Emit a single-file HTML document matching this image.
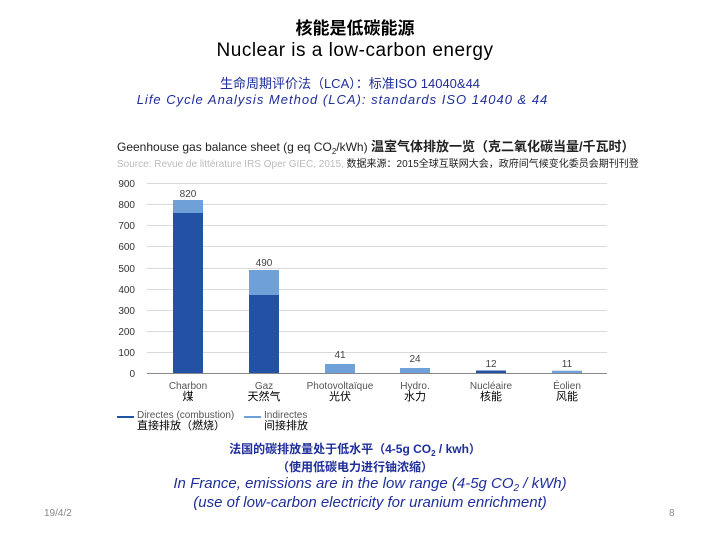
<!DOCTYPE html>
<html><head><meta charset="utf-8"><style>
body{margin:0;width:720px;height:540px;background:#fff;position:relative;overflow:hidden;font-family:"Liberation Sans","Noto Sans CJK SC",sans-serif;}
.t{position:absolute;white-space:nowrap;}
.s{position:relative;top:3px;line-height:0}
</style></head><body>
<div class="t" style="left:0;width:710px;text-align:center;top:14px;font-size:17px;font-weight:bold;color:#000">核能是低碳能源</div>
<div class="t" style="left:0;width:710px;text-align:center;top:40px;font-size:19px;color:#000;letter-spacing:0.5px">Nuclear is a low-carbon energy</div>
<div class="t" style="left:0;width:700px;text-align:center;top:73px;font-size:13px;color:#1f2f9a">生命周期评价法（LCA）：标准ISO 14040&amp;44</div>
<div class="t" style="left:0;width:685px;text-align:center;top:92px;font-size:13px;color:#1f2f9a;font-style:italic;letter-spacing:1px">Life Cycle Analysis Method (LCA): standards ISO 14040 &amp; 44</div>
<div class="t" style="left:117px;top:136px;font-size:12px;color:#222">Geenhouse gas balance sheet (g eq CO<span class="s" style="font-size:8px">2</span>/kWh) <b style="font-size:13px">温室气体排放一览（克二氧化碳当量/千瓦时）</b></div>
<div class="t" style="left:117px;top:155px;font-size:10px;color:#222"><span style="color:#bbb">Source: Revue de littérature IRS Oper GIEC, 2015,</span> 数据来源：2015全球互联网大会，政府间气候变化委员会期刊刊登</div>
<svg width="720" height="540" style="position:absolute;left:0;top:0">
<g stroke="#d9d9d9" stroke-width="1">
<line x1="147" x2="607" y1="183.5" y2="183.5"/><line x1="147" x2="607" y1="204.5" y2="204.5"/><line x1="147" x2="607" y1="225.5" y2="225.5"/><line x1="147" x2="607" y1="246.5" y2="246.5"/><line x1="147" x2="607" y1="268.5" y2="268.5"/><line x1="147" x2="607" y1="289.5" y2="289.5"/><line x1="147" x2="607" y1="310.5" y2="310.5"/><line x1="147" x2="607" y1="331.5" y2="331.5"/><line x1="147" x2="607" y1="352.5" y2="352.5"/>
</g>
<line x1="147" x2="607" y1="373.5" y2="373.5" stroke="#888"/>
<g font-size="10" fill="#333" text-anchor="end" font-family="Liberation Sans,sans-serif">
<text x="135" y="187">900</text><text x="135" y="208">800</text><text x="135" y="229">700</text><text x="135" y="250">600</text><text x="135" y="272">500</text><text x="135" y="293">400</text><text x="135" y="314">300</text><text x="135" y="335">200</text><text x="135" y="356">100</text><text x="135" y="377">0</text>
</g>
<rect x="173" y="200" width="30" height="13" fill="#6fa0d8"/><rect x="173" y="213" width="30" height="160" fill="#2352a4"/>
<rect x="249" y="270" width="30" height="25" fill="#6fa0d8"/><rect x="249" y="295" width="30" height="78" fill="#2352a4"/>
<rect x="325" y="364" width="30" height="9" fill="#6fa0d8"/>
<rect x="400" y="368" width="30" height="5" fill="#6fa0d8"/>
<rect x="476" y="370.5" width="30" height="2.5" fill="#2352a4"/>
<rect x="552" y="370.7" width="30" height="2.3" fill="#6fa0d8"/>
<g font-size="10" fill="#444" text-anchor="middle" font-family="Liberation Sans,sans-serif">
<text x="188" y="197">820</text><text x="264" y="266">490</text><text x="340" y="358">41</text><text x="415" y="362">24</text><text x="491" y="367">12</text><text x="567" y="367">11</text>
</g>
<line x1="117" x2="134" y1="417" y2="417" stroke="#2352a4" stroke-width="2"/>
<line x1="244" x2="261" y1="417" y2="417" stroke="#6fa0d8" stroke-width="2"/>
</svg>
<div class="t" style="left:0;top:381px;font-size:10px;color:#555;line-height:11px">
<div class="t" style="left:158px;width:60px;text-align:center">Charbon<br><span style="color:#000;font-size:11px">煤</span></div>
<div class="t" style="left:234px;width:60px;text-align:center">Gaz<br><span style="color:#000;font-size:11px">天然气</span></div>
<div class="t" style="left:300px;width:80px;text-align:center">Photovoltaïque<br><span style="color:#000;font-size:11px">光伏</span></div>
<div class="t" style="left:385px;width:60px;text-align:center">Hydro.<br><span style="color:#000;font-size:11px">水力</span></div>
<div class="t" style="left:461px;width:60px;text-align:center">Nucléaire<br><span style="color:#000;font-size:11px">核能</span></div>
<div class="t" style="left:537px;width:60px;text-align:center">Éolien<br><span style="color:#000;font-size:11px">风能</span></div>
</div>
<div class="t" style="left:137px;top:410px;font-size:10px;color:#555;line-height:11px">Directes (combustion)<br><span style="color:#000;font-size:11px">直接排放（燃烧）</span></div>
<div class="t" style="left:264px;top:410px;font-size:10px;color:#555;line-height:11px">Indirectes<br><span style="color:#000;font-size:11px">间接排放</span></div>
<div class="t" style="left:0;width:710px;text-align:center;top:440px;font-size:12px;font-weight:bold;color:#1f2f9a">法国的碳排放量处于低水平（4-5g CO<span class="s" style="font-size:8px">2</span> / kwh）</div>
<div class="t" style="left:0;width:710px;text-align:center;top:458px;font-size:12px;font-weight:bold;color:#1f2f9a">（使用低碳电力进行铀浓缩）</div>
<div class="t" style="left:0;width:740px;text-align:center;top:475px;font-size:15px;font-style:italic;color:#1f2f9a">In France, emissions are in the low range (4-5g CO<span class="s" style="font-size:10px">2</span> / kWh)</div>
<div class="t" style="left:0;width:740px;text-align:center;top:494px;font-size:15px;font-style:italic;color:#1f2f9a">(use of low-carbon electricity for uranium enrichment)</div>
<div class="t" style="left:44px;top:508px;font-size:10px;color:#888">19/4/2</div>
<div class="t" style="left:669px;top:508px;font-size:10px;color:#888">8</div>
</body></html>
